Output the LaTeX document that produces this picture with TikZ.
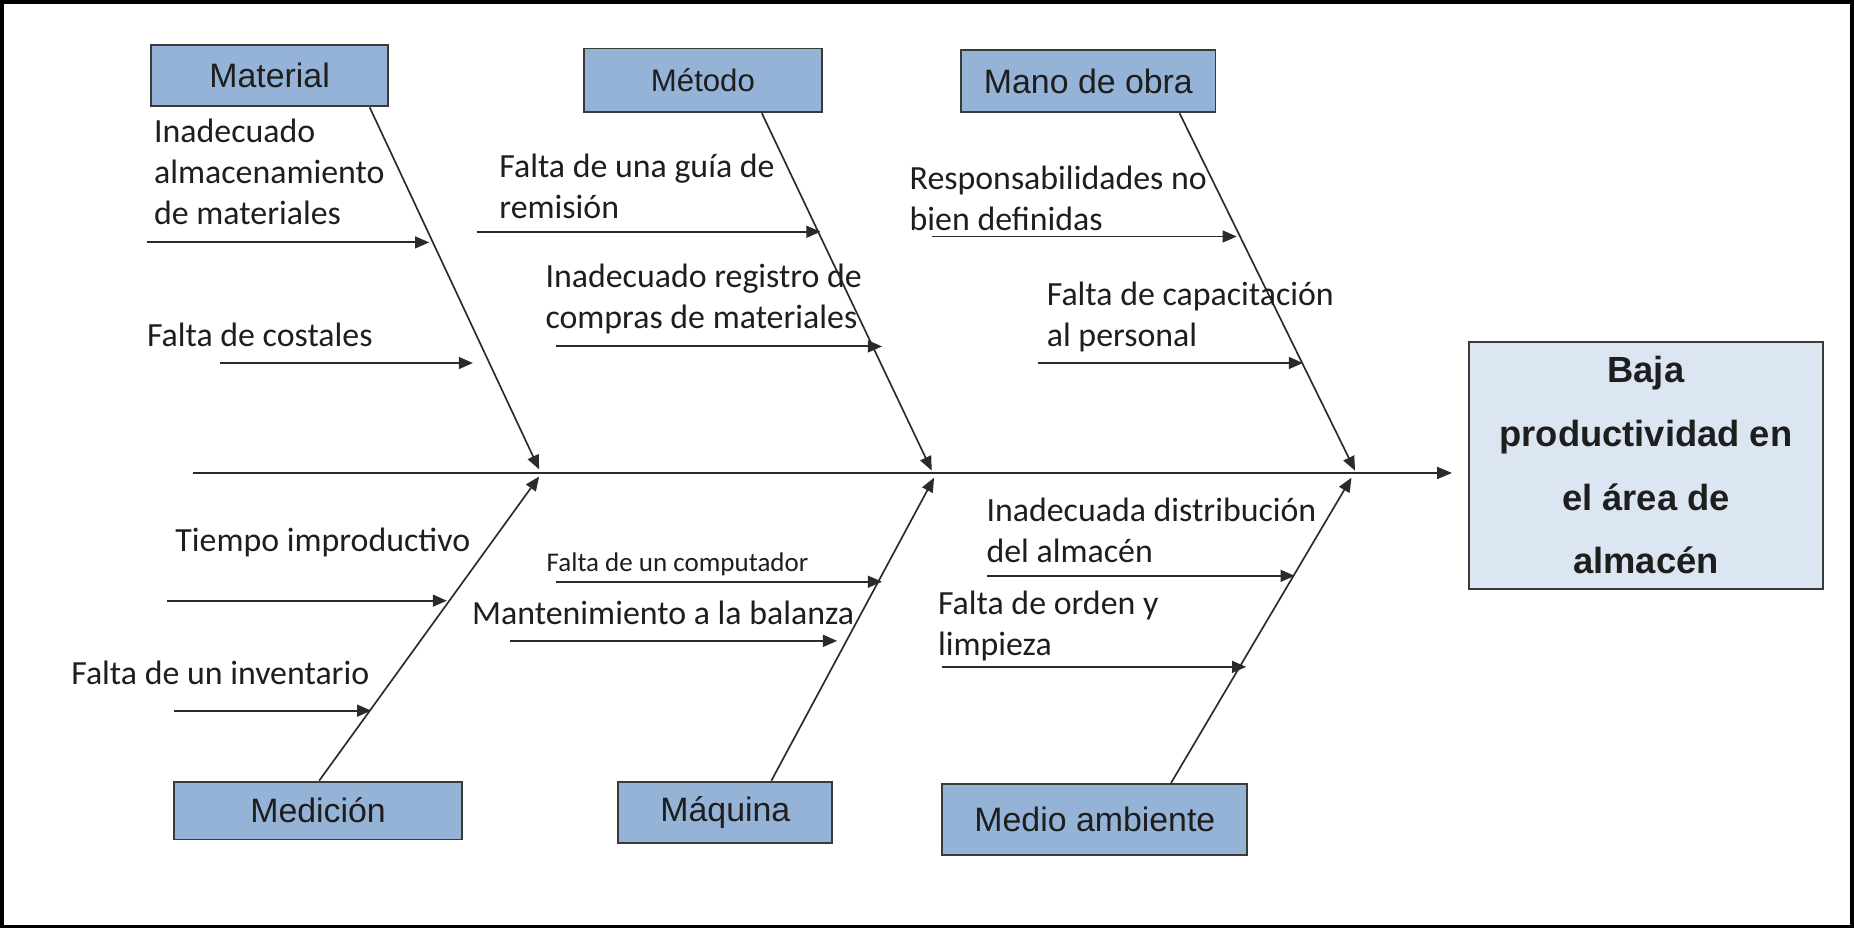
\documentclass[tikz,border=0pt]{standalone}
\usepackage{fontspec}
\setmainfont{Carlito}
\newfontfamily\arialf{Liberation Sans}
\usetikzlibrary{arrows.meta,calc}
\definecolor{catblue}{HTML}{95B3D7}
\definecolor{effblue}{HTML}{DCE6F2}
\definecolor{linecol}{HTML}{2A2A2A}
\definecolor{boxline}{HTML}{3A3A3A}
\definecolor{txtcol}{HTML}{1E1E1E}
\tikzset{
  catbox/.style={draw=boxline, fill=catblue, line width=0.9pt, inner sep=0pt,
    text=txtcol, font=\arialf\fontsize{16.3}{19}\selectfont},
  effbox/.style={draw=boxline, fill=effblue, line width=0.9pt, inner sep=0pt,
    align=center, text=txtcol, font=\arialf\bfseries\fontsize{17.5}{30.6}\selectfont},
  cause/.style={anchor=base west, inner sep=0pt, align=left, text=txtcol,
    font=\fontsize{16.3}{19.7}\selectfont},
  smallcause/.style={anchor=base west, inner sep=0pt, align=left, text=txtcol,
    font=\fontsize{13}{15.6}\selectfont},
  bone/.style={draw=linecol, line width=0.8pt, -{Triangle[length=0.24cm,width=0.2cm]}},
  causearrow/.style={draw=linecol, line width=0.95pt, -{Triangle[length=0.24cm,width=0.2cm]}},
  spineline/.style={draw=linecol, line width=0.95pt, -{Triangle[length=0.25cm,width=0.2cm]}},
}
\begin{document}
\begin{tikzpicture}[x=0.02cm,y=-0.02cm]
\useasboundingbox (0,0) rectangle (1568,785);
\draw[black, line width=0.06cm] (1.5,1.5) rectangle (1566.5,783.5);

% category boxes
\node[catbox, minimum width=4cm, minimum height=1.04cm] (mat) at (228,64) {Material};
\node[catbox, minimum width=4.02cm, minimum height=1.08cm, font=\arialf\fontsize{15}{18}\selectfont] (met) at (594.5,68) {Método};
\node[catbox, minimum width=4.3cm, minimum height=1.06cm] (mano) at (920.5,68.5) {Mano de obra};
\node[catbox, minimum width=4.88cm, minimum height=0.98cm] (med) at (269,685.5) {Medición};
\node[catbox, minimum width=3.62cm, minimum height=1.04cm] (maq) at (613.5,687) {Máquina};
\node[catbox, minimum width=5.16cm, minimum height=1.2cm] (amb) at (926,693) {Medio ambiente};

% effect box
\node[effbox, minimum width=6cm, minimum height=4.18cm] (eff) at (1392,393.5)
  {Baja\\productividad en\\el área de\\almacén};

% spine
\coordinate (spL) at (163,400);
\coordinate (spR) at (1228,400);
\draw[spineline] (spL) -- (spR);

% junctions
\coordinate (j1) at (456,397);
\coordinate (j2) at (788,398);
\coordinate (j3) at (1146,398);
\coordinate (j4) at (456,403);
\coordinate (j5) at (790,404);
\coordinate (j6) at (1143,404);

% bones
\draw[bone] ($(mat.south west)!0.92!(mat.south east)$) -- (j1);
\draw[bone] ($(met.south west)!0.746!(met.south east)$) -- (j2);
\draw[bone] ($(mano.south west)!0.856!(mano.south east)$) -- (j3);
\draw[bone] ($(med.north west)!0.504!(med.north east)$) -- (j4);
\draw[bone] ($(maq.north west)!0.713!(maq.north east)$) -- (j5);
\draw[bone] ($(amb.north west)!0.748!(amb.north east)$) -- (j6);

% cause texts (anchor = baseline of the last line)
\node[cause] (t1) at (130,190) {Inadecuado\\almacenamiento\\de materiales};
\node[cause] (t2) at (124,293) {Falta de costales};
\node[cause] (t3) at (422,185) {Falta de una guía de\\remisión};
\node[cause] (t4) at (461,278) {Inadecuado registro de\\compras de materiales};
\node[cause] (t5) at (769,195) {Responsabilidades no\\bien definidas};
\node[cause] (t6) at (885,293) {Falta de capacitación\\al personal};
\node[cause] (t7) at (148,466) {Tiempo improductivo};
\node[cause] (t8) at (60,579) {Falta de un inventario};
\node[smallcause] (t9) at (462,483) {Falta de un computador};
\node[cause] (t10) at (399,528) {Mantenimiento a la balanza};
\node[cause] (t11) at (834,476) {Inadecuada distribución\\del almacén};
\node[cause] (t12) at (793,554) {Falta de orden y\\limpieza};

% cause arrows
\coordinate (a1s) at (124,205);  \coordinate (a1e) at (363,205);
\coordinate (a2s) at (186,307);  \coordinate (a2e) at (400,307);
\coordinate (a3s) at (403,196);  \coordinate (a3e) at (694,196);
\coordinate (a4s) at (470,293);  \coordinate (a4e) at (746,293);
\coordinate (a5s) at (788,200);  \coordinate (a5e) at (1046,200);
\coordinate (a6s) at (878,307);  \coordinate (a6e) at (1102,307);
\coordinate (a7s) at (141,508);  \coordinate (a7e) at (378,508);
\coordinate (a8s) at (147,601);  \coordinate (a8e) at (314,601);
\coordinate (a9s) at (470,492);  \coordinate (a9e) at (746,492);
\coordinate (a10s) at (431,542); \coordinate (a10e) at (708,542);
\coordinate (a11s) at (835,487); \coordinate (a11e) at (1095,487);
\coordinate (a12s) at (797,564); \coordinate (a12e) at (1054,564);
\foreach \i in {1,...,12}{\draw[causearrow] (a\i s) -- (a\i e);}
\end{tikzpicture}
\end{document}
